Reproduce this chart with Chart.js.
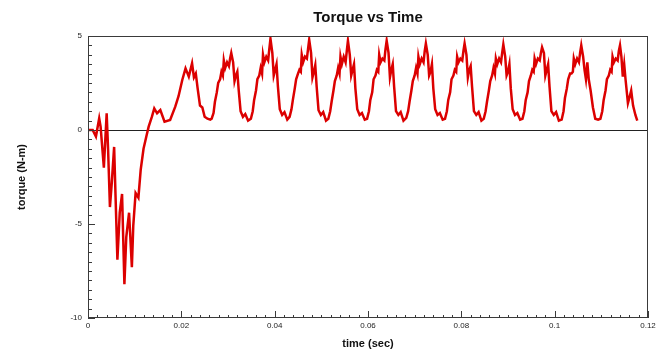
<!DOCTYPE html>
<html lang="en">
<head>
  <meta charset="UTF-8" />
  <title>Torque vs Time</title>
  <script src="https://cdn.jsdelivr.net/npm/chart.js"></script>
  <style>
    body {
      margin: 0;
      padding: 0;
      background: #ffffff;
    }
    #chart-container {
      width: 663px;
      height: 353px;
    }
  </style>
</head>
<body>
  <div id="chart-container">
    <canvas id="torqueChart" width="663" height="353"></canvas>
  </div>

  <script>
    // time samples (s), start-up first, then one row per cycle
    const timeSec = [
      0, 0.001, 0.0017, 0.0024, 0.0027, 0.0034, 0.004, 0.0043, 0.0047, 0.0051,
      0.0056, 0.0059, 0.0063, 0.0068, 0.0073, 0.0078, 0.0082, 0.0088, 0.0094, 0.0097,
      0.0102, 0.0108, 0.0113, 0.0119, 0.0125, 0.013, 0.0137, 0.0142, 0.0148, 0.0155,
      0.0164, 0.0176, 0.0187, 0.0194, 0.0202, 0.0209, 0.0216, 0.0223, 0.0227, 0.0231,
      0.0235, 0.024, 0.0245, 0.025, 0.0256, 0.0262,
      0.0265, 0.0269, 0.0272, 0.0276, 0.0279, 0.0283, 0.0286, 0.0289, 0.0291, 0.0294, 0.0298, 0.0302, 0.03045, 0.0307, 0.0311, 0.0314, 0.0317, 0.0320, 0.0323, 0.0327, 0.0332, 0.0337, 0.0343,
      0.0349, 0.0353, 0.0356, 0.0360, 0.0363, 0.0367, 0.0370, 0.0373, 0.0375, 0.0378, 0.0382, 0.0386, 0.03885, 0.0391, 0.0395, 0.0398, 0.0401, 0.0404, 0.0407, 0.0411, 0.0416, 0.0421, 0.0427,
      0.0432, 0.0436, 0.0439, 0.0443, 0.0446, 0.0450, 0.0453, 0.0456, 0.0458, 0.0461, 0.0465, 0.0469, 0.04715, 0.0474, 0.0478, 0.0481, 0.0484, 0.0487, 0.0490, 0.0494, 0.0499, 0.0504, 0.0510,
      0.0515, 0.0519, 0.0522, 0.0526, 0.0529, 0.0533, 0.0536, 0.0539, 0.0541, 0.0544, 0.0548, 0.0552, 0.05545, 0.0557, 0.0561, 0.0564, 0.0567, 0.0570, 0.0573, 0.0577, 0.0582, 0.0587, 0.0593,
      0.0598, 0.0602, 0.0605, 0.0609, 0.0612, 0.0616, 0.0619, 0.0622, 0.0624, 0.0627, 0.0631, 0.0635, 0.06375, 0.0640, 0.0644, 0.0647, 0.0650, 0.0653, 0.0656, 0.0660, 0.0665, 0.0670, 0.0676,
      0.0682, 0.0686, 0.0689, 0.0693, 0.0696, 0.0700, 0.0703, 0.0706, 0.0708, 0.0711, 0.0715, 0.0719, 0.07215, 0.0724, 0.0728, 0.0731, 0.0734, 0.0737, 0.0740, 0.0744, 0.0749, 0.0754, 0.0760,
      0.0765, 0.0769, 0.0772, 0.0776, 0.0779, 0.0783, 0.0786, 0.0789, 0.0791, 0.0794, 0.0798, 0.0802, 0.08045, 0.0807, 0.0811, 0.0814, 0.0817, 0.0820, 0.0823, 0.0827, 0.0832, 0.0837, 0.0843,
      0.0848, 0.0852, 0.0855, 0.0859, 0.0862, 0.0866, 0.0869, 0.0872, 0.0874, 0.0877, 0.0881, 0.0885, 0.08875, 0.0890, 0.0894, 0.0897, 0.0900, 0.0903, 0.0906, 0.0910, 0.0915, 0.0920, 0.0926,
      0.0931, 0.0935, 0.0938, 0.0942, 0.0945, 0.0949, 0.0952, 0.0955, 0.0957, 0.0960, 0.0964, 0.0968, 0.09705, 0.0973, 0.0977, 0.0980, 0.0983, 0.0986, 0.0989, 0.0993, 0.0998, 0.1003, 0.1009,
      0.1015, 0.1019, 0.1022, 0.1026, 0.1029, 0.1033, 0.1036, 0.1039, 0.1041, 0.1044, 0.1048, 0.1052, 0.10545, 0.1057, 0.1061, 0.1064, 0.1067, 0.1070, 0.1073, 0.1077, 0.1082, 0.1087, 0.1093,
      0.1098, 0.1102, 0.1105, 0.1109, 0.1112, 0.1116, 0.1119, 0.1122, 0.1124, 0.1127, 0.1131, 0.1135, 0.11375, 0.1140, 0.1143, 0.1146, 0.1149, 0.1152, 0.1157, 0.1160, 0.1164, 0.1168, 0.1173, 0.1177
    ];

    // torque (N-m), same rows as timeSec
    const torque = [
      0, 0, -0.35, 0.62, 0.18, -2.0, 0.89, -1.0, -4.1, -2.8,
      -0.9, -3.5, -6.9, -4.4, -3.4, -8.2, -5.7, -4.4, -7.3, -5.1,
      -3.35, -3.6, -2.1, -1.0, -0.35, 0.18, 0.71, 1.15, 0.89, 1.06,
      0.44, 0.53, 1.24, 1.8, 2.66, 3.28, 2.84, 3.55, 2.8, 3.0,
      2.2, 1.3, 1.2, 0.7, 0.6, 0.55,
      0.6, 0.9, 1.5, 2.0, 2.5, 2.7, 3.1, 2.9, 3.7, 3.3, 3.6, 3.4, 3.8, 4.1, 3.6, 2.6, 2.9, 3.1, 2.1, 1.0, 0.7, 0.85, 0.5,
      0.6, 1.0, 1.6, 2.1, 2.7, 2.9, 3.3, 3.0, 4.0, 3.6, 3.9, 3.7, 4.3, 4.85, 4.1, 2.9, 3.2, 3.5, 2.3, 1.1, 0.8, 0.95, 0.55,
      0.7, 1.1, 1.6, 2.2, 2.7, 3.0, 3.2, 3.1, 4.0, 3.6, 3.9, 3.8, 4.3, 4.8, 4.1, 2.8, 3.1, 3.45, 2.3, 1.05, 0.8, 0.95, 0.5,
      0.6, 1.0, 1.5, 2.1, 2.6, 2.9, 3.3, 3.0, 3.9, 3.5, 3.9, 3.6, 4.2, 4.75, 4.0, 2.9, 3.2, 3.5, 2.2, 1.1, 0.8, 0.9, 0.55,
      0.6, 1.0, 1.6, 2.0, 2.7, 2.9, 3.2, 3.1, 4.0, 3.6, 3.8, 3.7, 4.3, 4.75, 4.1, 2.8, 3.2, 3.5, 2.3, 1.0, 0.8, 0.95, 0.5,
      0.65, 1.0, 1.5, 2.1, 2.6, 2.9, 3.3, 3.0, 3.9, 3.5, 3.8, 3.6, 4.2, 4.6, 4.0, 2.9, 3.1, 3.5, 2.2, 1.1, 0.8, 0.9, 0.55,
      0.6, 1.0, 1.6, 2.0, 2.7, 2.9, 3.2, 3.1, 3.9, 3.6, 3.8, 3.7, 4.2, 4.6, 4.0, 2.8, 3.2, 3.4, 2.3, 1.0, 0.8, 0.95, 0.5,
      0.6, 1.0, 1.5, 2.1, 2.6, 2.9, 3.3, 3.0, 3.8, 3.5, 3.8, 3.6, 4.1, 4.55, 3.9, 2.9, 3.1, 3.5, 2.2, 1.1, 0.8, 0.9, 0.55,
      0.6, 1.0, 1.6, 2.0, 2.6, 2.9, 3.2, 3.1, 3.8, 3.5, 3.8, 3.7, 4.1, 4.4, 4.1, 2.9, 3.2, 3.5, 2.3, 1.0, 0.8, 0.95, 0.5,
      0.55, 1.0, 1.7, 2.2, 2.7, 3.0, 3.0, 3.1, 3.8, 3.5, 3.8, 3.6, 4.1, 4.5, 3.9, 3.2, 2.7, 3.6, 2.7, 2.1, 1.2, 0.6, 0.55,
      0.6, 1.0, 1.6, 2.1, 2.7, 2.9, 3.2, 3.1, 3.9, 3.6, 3.8, 3.7, 4.2, 4.5, 3.9, 2.84, 3.5, 2.66, 1.43, 1.7, 2.1, 1.3, 0.8, 0.5
    ];

    const xTicks = [0, 0.02, 0.04, 0.06, 0.08, 0.1, 0.12];
    const yTicks = [-10, -5, 0, 5];

    // box around the plot with small inward ticks on the left and bottom
    const frameTicks = {
      id: 'frameTicks',
      afterDatasetsDraw(chart) {
        const { ctx, chartArea: a, scales: { x, y } } = chart;
        ctx.save();
        ctx.strokeStyle = '#3a3a3a';
        ctx.lineWidth = 1;
        ctx.strokeRect(a.left + 0.5, a.top + 0.5, a.right - a.left - 1, a.bottom - a.top - 1);
        ctx.beginPath();
        for (let i = 0; i <= 30; i++) {
          const py = Math.round(y.getPixelForValue(-10 + i * 0.5)) + 0.5;
          const len = i % 10 === 0 ? 7 : 4;
          ctx.moveTo(a.left, py);
          ctx.lineTo(a.left + len, py);
        }
        for (let i = 0; i <= 60; i++) {
          const px = Math.round(x.getPixelForValue(i * 0.002)) + 0.5;
          const len = i % 10 === 0 ? 7 : 3;
          ctx.moveTo(px, a.bottom);
          ctx.lineTo(px, a.bottom - len);
        }
        ctx.stroke();
        ctx.restore();
      }
    };

    const ctx = document.getElementById('torqueChart').getContext('2d');
    const chart = new Chart(ctx, {
      type: 'line',
      data: {
        datasets: [{
          label: 'torque',
          data: timeSec.map((t, i) => ({ x: t, y: torque[i] })),
          borderColor: '#dc0000',
          borderWidth: 2.5,
          pointRadius: 0,
          tension: 0
        }]
      },
      options: {
        responsive: false,
        animation: false,
        devicePixelRatio: 1,
        layout: { padding: { left: 0, right: 15, top: 0, bottom: 0 } },
        plugins: {
          legend: { display: false },
          tooltip: { enabled: false },
          title: {
            display: true,
            fullSize: false,
            text: 'Torque vs Time',
            color: '#111',
            font: { family: 'Liberation Sans', size: 15, weight: 'bold' },
            padding: { top: 9, bottom: 9 }
          }
        },
        scales: {
          x: {
            type: 'linear',
            min: 0,
            max: 0.12,
            afterBuildTicks: s => { s.ticks = xTicks.map(v => ({ value: v })); },
            afterFit: s => { s.height = 35; },
            grid: { display: false, drawTicks: false },
            border: { display: false },
            ticks: {
              padding: 3,
              color: '#222',
              font: { family: 'Liberation Sans', size: 8 },
              callback: v => String(v)
            },
            title: {
              display: true,
              text: 'time (sec)',
              color: '#111',
              font: { family: 'Liberation Sans', size: 11, weight: 'bold' },
              padding: { top: 2, bottom: 2 }
            }
          },
          y: {
            min: -10,
            max: 5,
            afterBuildTicks: s => { s.ticks = yTicks.map(v => ({ value: v })); },
            afterFit: s => { s.width = 88; },
            grid: {
              drawTicks: false,
              color: c => (c.tick && c.tick.value === 0 ? '#222' : 'rgba(0,0,0,0)'),
              lineWidth: 1
            },
            border: { display: false },
            ticks: {
              padding: 6,
              color: '#222',
              font: { family: 'Liberation Sans', size: 8 },
              callback: v => String(v)
            },
            title: {
              display: true,
              text: 'torque (N-m)',
              color: '#111',
              font: { family: 'Liberation Sans', size: 11, weight: 'bold' },
              padding: { top: 15, bottom: 0 }
            }
          }
        }
      },
      plugins: [frameTicks]
    });
  </script>
</body>
</html>
